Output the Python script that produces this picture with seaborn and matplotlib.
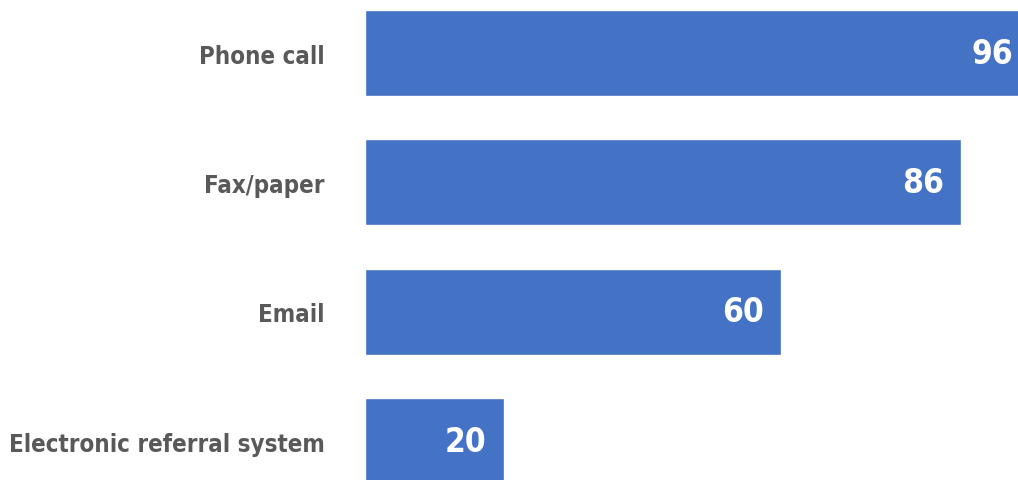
import matplotlib
matplotlib.use("Agg")
import matplotlib.pyplot as plt
import seaborn as sns
import pandas as pd

categories = ["Phone call", "Fax/paper", "Email", "Electronic referral system"]
values = [96, 86, 60, 20]

sns.set_style("white")
plt.rcParams["font.family"] = ["DejaVu Sans"]

df = pd.DataFrame({"method": categories, "value": values})

W, H = 1018, 481
fig = plt.figure(figsize=(W / 100, H / 100), dpi=100)
ax = fig.add_axes([365 / W, 0, 1 - 365 / W, 1])

sns.barplot(data=df, y="method", x="value", orient="h", color="#4472C4",
            saturation=1, width=0.665, ax=ax)

ax.set_xlim(0, 94.2)
ax.set_ylim(3.30, -0.418)
ax.set_xlabel("")
ax.set_ylabel("")
ax.set_xticks([])
sns.despine(ax=ax, left=True, bottom=True)
ax.tick_params(axis="y", length=0, pad=28.8)

# category labels: bold condensed grey, sized so the longest one fits the margin
base = 27
for lbl in ax.get_yticklabels():
    lbl.set_fontsize(base)
    lbl.set_fontweight("bold")
    lbl.set_fontstretch("condensed")
    lbl.set_color("#595959")
fig.canvas.draw()
renderer = fig.canvas.get_renderer()
widest = max(l.get_window_extent(renderer).width for l in ax.get_yticklabels())
size = base * 316 / widest
for lbl in ax.get_yticklabels():
    lbl.set_fontsize(size)

labels = ax.bar_label(ax.containers[0], labels=[str(v) for v in values],
                      padding=-12.5, color="white", fontsize=24,
                      fontweight="bold", fontstretch="condensed")
for t in labels:
    t.set_ha("right")
    t.set_annotation_clip(False)

fig.savefig("out.png", dpi=100)
